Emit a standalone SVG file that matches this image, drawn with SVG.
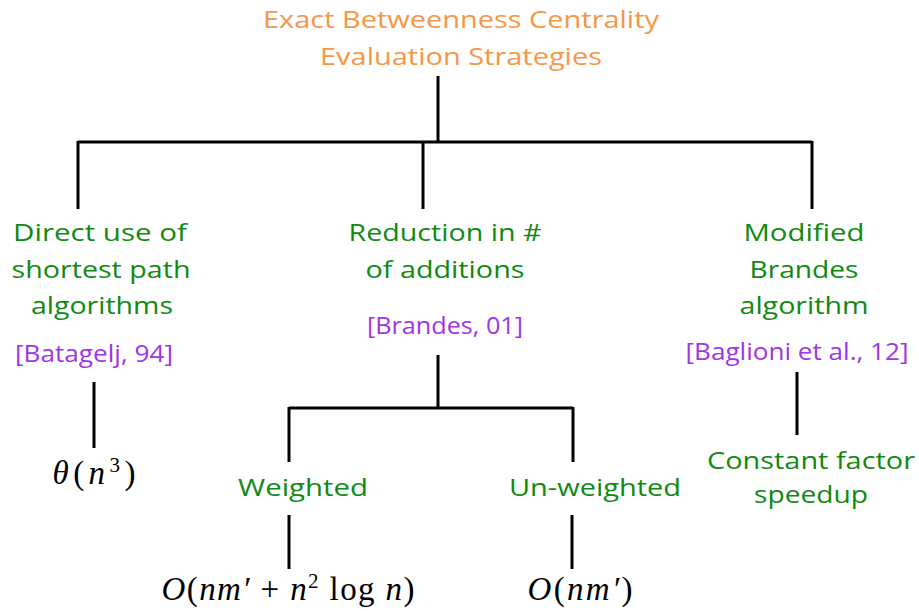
<svg xmlns="http://www.w3.org/2000/svg" width="919" height="611" viewBox="0 0 919 611">
<style>
.t{font-family:"Open Sans","Noto Sans","Liberation Sans",sans-serif;font-size:24px;text-anchor:middle}
.title{fill:#f79646}
.g{fill:#108a10}
.p{fill:#a035e8}
.m{font-family:"Liberation Serif","DejaVu Serif",serif;font-size:33px;fill:#000;text-anchor:middle}
.i{font-style:italic}
.c line{stroke:#000;stroke-width:3;stroke-linecap:butt}
</style>
<rect width="919" height="611" fill="#fff"/>
<g class="c" id="connectors">
<line x1="438" y1="76" x2="438" y2="143"/>
<line x1="78" y1="142" x2="812" y2="142"/>
<line x1="78" y1="141" x2="78" y2="209"/>
<line x1="423" y1="141" x2="423" y2="209"/>
<line x1="812" y1="141" x2="812" y2="209"/>
<line x1="94" y1="382" x2="94" y2="448"/>
<line x1="438" y1="355" x2="438" y2="409"/>
<line x1="289" y1="408" x2="573" y2="408"/>
<line x1="289" y1="407" x2="289" y2="462"/>
<line x1="573" y1="407" x2="573" y2="462"/>
<line x1="289" y1="515" x2="289" y2="569"/>
<line x1="572" y1="515" x2="572" y2="569"/>
<line x1="797" y1="372" x2="797" y2="435"/>
</g>
<g id="root">
<text class="t title" x="461" y="28" textLength="396" lengthAdjust="spacingAndGlyphs">Exact Betweenness Centrality</text>
<text class="t title" x="461" y="65" textLength="282" lengthAdjust="spacingAndGlyphs">Evaluation Strategies</text>
</g>
<g id="direct">
<text class="t g" x="100" y="241" textLength="174" lengthAdjust="spacingAndGlyphs">Direct use of</text>
<text class="t g" x="101" y="278" textLength="179" lengthAdjust="spacingAndGlyphs">shortest path</text>
<text class="t g" x="102" y="314" textLength="142" lengthAdjust="spacingAndGlyphs">algorithms</text>
<text class="t p" x="94" y="362" textLength="158" lengthAdjust="spacingAndGlyphs">[Batagelj, 94]</text>
</g>
<g id="theta">
<text class="m" x="94" y="484" textLength="83" lengthAdjust="spacing"><tspan class="i">θ</tspan>(<tspan class="i">n</tspan><tspan font-size="21" dy="-12">3</tspan><tspan dy="12">)</tspan></text>
</g>
<g id="reduction">
<text class="t g" x="445" y="241" textLength="193" lengthAdjust="spacingAndGlyphs">Reduction in #</text>
<text class="t g" x="445" y="278" textLength="159" lengthAdjust="spacingAndGlyphs">of additions</text>
<text class="t p" x="445" y="334" textLength="156" lengthAdjust="spacingAndGlyphs">[Brandes, 01]</text>
</g>
<g id="modified">
<text class="t g" x="804" y="241" textLength="121" lengthAdjust="spacingAndGlyphs">Modified</text>
<text class="t g" x="804" y="278" textLength="109" lengthAdjust="spacingAndGlyphs">Brandes</text>
<text class="t g" x="804" y="314" textLength="129" lengthAdjust="spacingAndGlyphs">algorithm</text>
<text class="t p" x="797" y="360" textLength="223" lengthAdjust="spacingAndGlyphs">[Baglioni et al., 12]</text>
</g>
<g id="constant">
<text class="t g" x="811" y="469" textLength="208" lengthAdjust="spacingAndGlyphs">Constant factor</text>
<text class="t g" x="811" y="503" textLength="114" lengthAdjust="spacingAndGlyphs">speedup</text>
</g>
<g id="weighted">
<text class="t g" x="303" y="496" textLength="130" lengthAdjust="spacingAndGlyphs">Weighted</text>
</g>
<g id="unweighted">
<text class="t g" x="595" y="496" textLength="172" lengthAdjust="spacingAndGlyphs">Un-weighted</text>
</g>
<g id="weighted-cost">
<text class="m" x="288" y="600" textLength="253" lengthAdjust="spacing"><tspan class="i">O</tspan>(<tspan class="i">nm′</tspan> + <tspan class="i">n</tspan><tspan font-size="21" dy="-12">2</tspan><tspan dy="12"> log </tspan><tspan class="i">n</tspan>)</text>
</g>
<g id="unweighted-cost">
<text class="m" x="580" y="600" textLength="105" lengthAdjust="spacing"><tspan class="i">O</tspan>(<tspan class="i">nm′</tspan>)</text>
</g>
</svg>
